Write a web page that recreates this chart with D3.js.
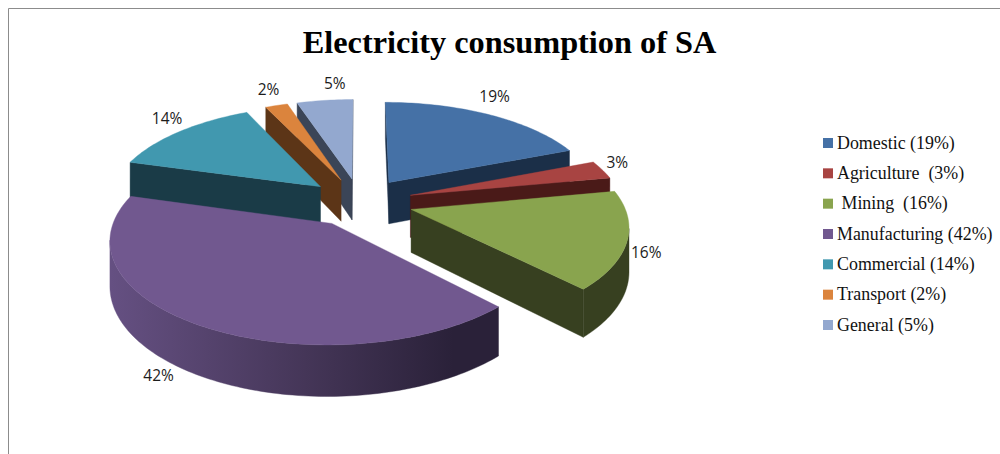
<!DOCTYPE html>
<html>
<head>
<meta charset="utf-8">
<script src="https://cdn.jsdelivr.net/npm/d3@7"></script>
<style>
html,body{margin:0;padding:0;background:#fff;overflow:hidden}
svg{display:block}
</style>
</head>
<body>
<svg id="chart" width="1000" height="454"></svg>
<script>
const chartTitle = "Electricity consumption of SA";
const categories = ["Domestic","Agriculture","Mining","Manufacturing","Commercial","Transport","General"];
const legendText = ["Domestic (19%)","Agriculture  (3%)"," Mining  (16%)","Manufacturing (42%)","Commercial (14%)","Transport (2%)","General (5%)"];
const shares = [19,3,15.8,41.6,13.6,2,5];
const topColors = ["#4571a6","#a84442","#89a44e","#71588f","#4198af","#db843d","#93a8cf"];
const sideColors = ["#1b2f48","#4a1a18","#374020","#2a2139","#1a3b47","#5c3517","#3b4557"];
const labelNudge = [[5,-18],[15,-7],[19,12],[-40,51],[-12,-13],[-8,-15],[10,-16]];
const drawOrder = [6,5,4,0,1,2,3];

const svg = d3.select("#chart");
svg.append("path").attr("d","M8.5,454V8.5H1000").attr("fill","none").attr("stroke","#8c8c8c").attr("stroke-width",1);

svg.append("text").attr("x",509.5).attr("y",53).attr("text-anchor","middle")
  .attr("font-family","'Liberation Serif',serif").attr("font-weight","bold").attr("font-size",32.3)
  .attr("fill","#000").text(chartTitle);

// gradient on the front wall of the largest slice
const grad=svg.append("defs").append("linearGradient").attr("id","mfgWall")
  .attr("gradientUnits","userSpaceOnUse").attr("x1",110).attr("x2",500).attr("y1",0).attr("y2",0);
grad.append("stop").attr("offset","0").attr("stop-color","#655082");
grad.append("stop").attr("offset","0.5").attr("stop-color","#453658");
grad.append("stop").attr("offset","0.88").attr("stop-color","#2a2139");
grad.append("stop").attr("offset","1").attr("stop-color","#2a2139");

// perspective projection of the tilted pie
const cx=360, cy=202, R=212, K=97, P=0.1447, H=42.5, EXPLODE=0.25;
const persp = v => 1/(1-P*v);
function project(u,v,z){
  const s=persp(v);
  return [cx+R*u*s, cy+K*v*s+H*z*s];
}
const pie = d3.pie().value(d=>d).sort(null).startAngle(0).endAngle(2*Math.PI);
const arcs = pie(shares);
const line = d3.line();
const area2 = q => { let a=0; q.forEach((p,i)=>{const n=q[(i+1)%q.length]; a+=p[0]*n[1]-n[0]*p[1];}); return a; };
const STEP = Math.PI/180*1.2;

const pieG = svg.append("g");
drawOrder.forEach(i=>{
  const a = arcs[i];
  const mid=(a.startAngle+a.endAngle)/2;
  const ou=EXPLODE*Math.sin(mid), ov=-EXPLODE*Math.cos(mid);
  const rimAngles=d3.range(a.startAngle,a.endAngle,STEP).concat([a.endAngle]);
  const rim=rimAngles.map(t=>[ou+Math.sin(t),ov-Math.cos(t)]);
  const top=[[ou,ov],...rim];
  const g=pieG.append("g").attr("class","slice").attr("data-name",categories[i]);
  const quad=(A,B)=>[project(A[0],A[1],0),project(B[0],B[1],0),project(B[0],B[1],1),project(A[0],A[1],1)];
  const col=sideColors[i];
  // straight cut faces
  [[top[0],rim[0]],[rim[rim.length-1],top[0]]].forEach(([A,B])=>{
    const q=quad(A,B);
    if(area2(q)<0) g.append("path").attr("d",line(q)+"Z").attr("fill",col).attr("stroke",col).attr("stroke-width",0.4);
  });
  // curved wall: joined run of the segments that face the viewer
  const upper=[],lower=[];
  for(let j=0;j<rim.length-1;j++){
    const q=quad(rim[j],rim[j+1]);
    if(area2(q)<0){
      if(!upper.length){upper.push(q[0]);lower.push(q[3]);}
      upper.push(q[1]);lower.push(q[2]);
    }
  }
  if(upper.length){
    const fill=categories[i]==="Manufacturing"?"url(#mfgWall)":col;
    g.append("path").attr("d",line(upper.concat(lower.reverse()))+"Z").attr("fill",fill).attr("stroke",fill).attr("stroke-width",0.4);
  }
  g.append("path").attr("d",line(top.map(p=>project(p[0],p[1],0)))+"Z").attr("fill",topColors[i]).attr("stroke",topColors[i]).attr("stroke-width",0.4);
});

// data labels
arcs.forEach((a,i)=>{
  const mid=(a.startAngle+a.endAngle)/2;
  const f=1+EXPLODE;
  const p=project(f*Math.sin(mid),-f*Math.cos(mid),0);
  svg.append("text").attr("x",p[0]+labelNudge[i][0]).attr("y",p[1]+labelNudge[i][1]+5)
    .attr("text-anchor","middle").attr("font-family","'Open Sans',sans-serif").attr("font-size",15.5)
    .attr("fill","#1c1c1c").text(d3.format(".0f")(a.data)+"%");
});

// legend
const rows=d3.scalePoint().domain(categories).range([143,325]);
const legend=svg.append("g");
categories.forEach((c,i)=>{
  const y=rows(c);
  legend.append("rect").attr("x",823).attr("y",y-5).attr("width",10).attr("height",10).attr("fill",topColors[i]);
  legend.append("text").attr("x",837).attr("y",y+5.5).style("white-space","pre")
    .attr("font-family","'Liberation Serif',serif").attr("font-size",17.9).attr("fill","#111").text(legendText[i]);
});
</script>
</body>
</html>
